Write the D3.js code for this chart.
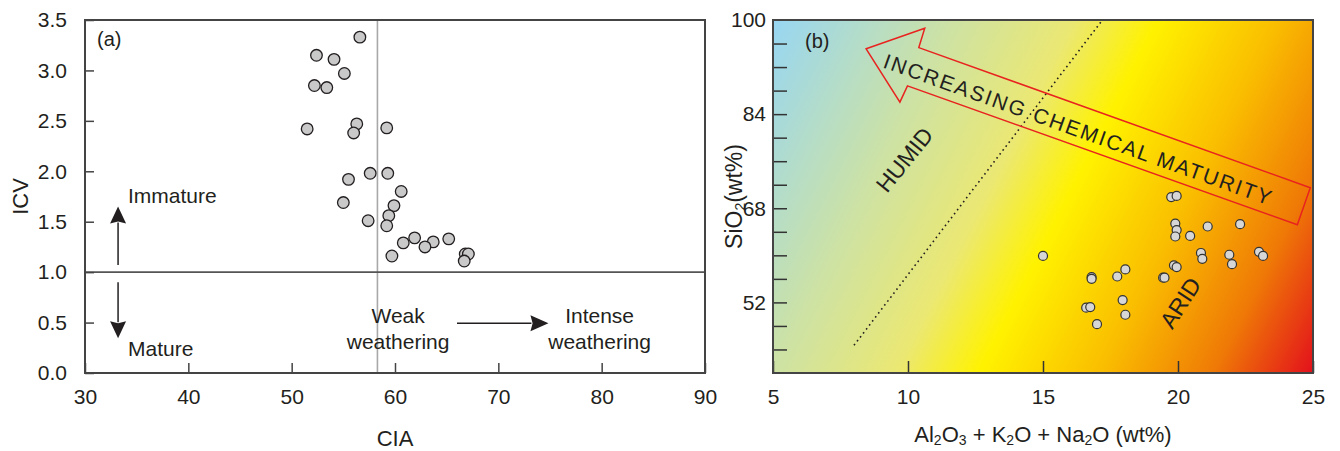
<!DOCTYPE html>
<html>
<head>
<meta charset="utf-8">
<script src="https://d3js.org/d3.v7.min.js"></script>
<style>
  body { margin: 0; background: #fff; }
  svg text { font-family: "Liberation Sans", Arial, sans-serif; fill: #231f20; }
</style>
</head>
<body>
<svg id="chart" width="1340" height="451"></svg>
<script>
// ---- panel (a): CIA vs ICV ----
var cia = [56.6, 52.4, 54.1, 55.1, 52.2, 53.4, 56.3, 51.5, 56.0, 59.2, 57.6, 59.3, 55.5, 60.6,
           55.0, 59.9, 59.4, 57.4, 59.2, 61.9, 60.8, 63.7, 62.9, 65.2, 59.7, 66.8, 67.1, 66.7];
var icv = [3.33, 3.15, 3.11, 2.97, 2.85, 2.83, 2.47, 2.42, 2.38, 2.43, 1.98, 1.98, 1.92, 1.80,
           1.69, 1.66, 1.56, 1.51, 1.46, 1.34, 1.29, 1.30, 1.25, 1.33, 1.16, 1.18, 1.18, 1.11];
var ciaTicks = [30, 40, 50, 60, 70, 80, 90];
var icvTicks = [0, 0.5, 1.0, 1.5, 2.0, 2.5, 3.0, 3.5];
var icvLimit = 1.0;
var ciaLimit = 58.3;

// ---- panel (b): Al2O3+K2O+Na2O vs SiO2 ----
var alkali = [15.0, 16.8, 16.8, 17.75, 18.05, 16.6, 16.75, 17.95, 18.05, 17.0, 19.75, 19.95, 19.9, 19.95,
              19.9, 20.45, 21.1, 22.3, 19.85, 19.95, 19.45, 19.5, 20.85, 20.9, 21.9, 22.0, 23.0, 23.15];
var silica = [59.9, 56.3, 56.0, 56.4, 57.6, 51.1, 51.2, 52.4, 49.9, 48.3, 69.9, 70.1, 65.4, 64.3,
              63.2, 63.3, 64.9, 65.3, 58.3, 58.0, 56.2, 56.2, 60.4, 59.4, 60.1, 58.5, 60.6, 59.9];
var alkaliTicks = [5, 10, 15, 20, 25];
var silicaLabels = [52, 68, 84, 100];
var silicaMinor = [44, 48, 52, 56, 60, 64, 68, 72, 76, 80, 84, 88, 92, 96];
var humidAridLine = [[8.0, 44.7], [17.2, 100]];
var maturityArrow = [[8.45, 95.1], [10.62, 98.6], [10.4, 95.3], [24.9, 71.5],
                     [24.42, 65.2], [9.98, 88.8], [9.7, 86.05]];

var svg = d3.select("#chart");
var font = 21;

// ================= panel (a) =================
var xa = d3.scaleLinear().domain([30, 90]).range([85, 705]);
var ya = d3.scaleLinear().domain([0, 3.5]).range([373, 20]);
var ga = svg.append("g");

ga.append("line").attr("x1", xa(ciaLimit)).attr("x2", xa(ciaLimit))
  .attr("y1", ya(3.5)).attr("y2", ya(0)).attr("stroke", "#a8a8a8").attr("stroke-width", 1.6);
ga.append("line").attr("x1", xa(30)).attr("x2", xa(90))
  .attr("y1", ya(icvLimit)).attr("y2", ya(icvLimit)).attr("stroke", "#555").attr("stroke-width", 1.6);

var axA = ga.append("g").attr("transform", "translate(0," + ya(0) + ")")
  .call(d3.axisBottom(xa).tickValues(ciaTicks).tickSize(-10).tickPadding(15).tickFormat(d3.format("d")));
var ayA = ga.append("g").attr("transform", "translate(" + xa(30) + ",0)")
  .call(d3.axisLeft(ya).tickValues(icvTicks).tickSize(-9).tickPadding(18).tickFormat(d3.format(".1f")));
[axA, ayA].forEach(function(ax){
  ax.select(".domain").remove();
  ax.selectAll("line").attr("stroke", "#444").attr("stroke-width", 1.5);
  ax.selectAll("text").style("font-size", font + "px").attr("fill", "#231f20");
});
axA.selectAll("text").attr("dy", "0.75em");

ga.append("rect").attr("x", xa(30)).attr("y", ya(3.5))
  .attr("width", xa(90) - xa(30)).attr("height", ya(0) - ya(3.5))
  .attr("fill", "none").attr("stroke", "#444").attr("stroke-width", 2);

ga.selectAll("circle.pa").data(d3.range(cia.length)).enter().append("circle")
  .attr("class", "pa")
  .attr("cx", function(i){ return xa(cia[i]); })
  .attr("cy", function(i){ return ya(icv[i]); })
  .attr("r", 5.8).attr("fill", "#c9c9c9").attr("stroke", "#231f20").attr("stroke-width", 1.3);

function arrow(g, x1, y1, x2, y2, len, half) {
  var dx = x2 - x1, dy = y2 - y1, L = Math.sqrt(dx * dx + dy * dy);
  var ux = dx / L, uy = dy / L;
  var bx = x2 - ux * len, by = y2 - uy * len;
  g.append("line").attr("x1", x1).attr("y1", y1).attr("x2", bx + ux).attr("y2", by + uy)
    .attr("stroke", "#231f20").attr("stroke-width", 1.5);
  g.append("path").attr("d", "M" + x2 + "," + y2 + "L" + (bx - uy * half) + "," + (by + ux * half) +
    "L" + (bx + ux * len * 0.12) + "," + (by + uy * len * 0.12) +
    "L" + (bx + uy * half) + "," + (by - ux * half) + "Z").attr("fill", "#231f20");
}
arrow(ga, xa(33.2), ya(1.07), xa(33.2), ya(1.65), 17, 8);
arrow(ga, xa(33.2), ya(0.9), xa(33.2), ya(0.345), 17, 8);
arrow(ga, xa(66.0), ya(0.493), xa(74.85), ya(0.493), 18, 8);

function label(g, x, y, txt, anchor, size) {
  return g.append("text").attr("x", x).attr("y", y).attr("text-anchor", anchor || "start")
    .style("font-size", (size || font) + "px").text(txt);
}
label(ga, 97, 46, "(a)", "start", 20);
label(ga, 128, 203, "Immature");
label(ga, 128, 356, "Mature");
label(ga, xa(60.3), 323, "Weak", "middle");
label(ga, xa(60.3), 349, "weathering", "middle");
label(ga, xa(79.8), 323, "Intense", "middle");
label(ga, xa(79.8), 349, "weathering", "middle");
label(ga, xa(60), 446, "CIA", "middle", 22);
ga.append("text").attr("transform", "translate(28," + ya(1.75) + ") rotate(-90)")
  .attr("text-anchor", "middle").style("font-size", "22px").text("ICV");

// ================= panel (b) =================
var xb = d3.scaleLinear().domain([5, 25]).range([773, 1313]);
var yb = d3.scaleLinear().domain([40, 100]).range([373, 20]);
var gb = svg.append("g");

var W = xb(25) - xb(5), H = yb(40) - yb(100);
var dir = [353, 179], dl = Math.sqrt(dir[0] * dir[0] + dir[1] * dir[1]);
var proj = (W * dir[0] + H * dir[1]) / dl;
var grad = svg.append("defs").append("linearGradient").attr("id", "climate")
  .attr("gradientUnits", "userSpaceOnUse")
  .attr("x1", xb(5)).attr("y1", yb(100))
  .attr("x2", xb(5) + dir[0] / dl * proj).attr("y2", yb(100) + dir[1] / dl * proj);
[[0, "#97d6f3"], [0.25, "#cde2a4"], [0.42, "#ebe873"], [0.535, "#fff200"],
 [0.7, "#fabf00"], [0.86, "#ef7a06"], [1, "#e3101c"]].forEach(function(s){
  grad.append("stop").attr("offset", s[0]).attr("stop-color", s[1]);
});
gb.append("rect").attr("x", xb(5)).attr("y", yb(100)).attr("width", W).attr("height", H)
  .attr("fill", "url(#climate)");

gb.append("line").attr("x1", xb(humidAridLine[0][0])).attr("y1", yb(humidAridLine[0][1]))
  .attr("x2", xb(humidAridLine[1][0])).attr("y2", yb(humidAridLine[1][1]))
  .attr("stroke", "#231f20").attr("stroke-width", 1.6).attr("stroke-dasharray", "1.6 3.4");

gb.append("path").attr("d", d3.line().x(function(d){ return xb(d[0]); }).y(function(d){ return yb(d[1]); })(maturityArrow) + "Z")
  .attr("fill", "none").attr("stroke", "#e8231f").attr("stroke-width", 1.5);

var ang = Math.atan2(yb(maturityArrow[3][1]) - yb(maturityArrow[2][1]), xb(maturityArrow[3][0]) - xb(maturityArrow[2][0])) * 180 / Math.PI;
gb.append("text").attr("transform", "translate(1077,131) rotate(" + ang + ")")
  .attr("text-anchor", "middle").attr("dominant-baseline", "middle")
  .attr("textLength", 410).attr("lengthAdjust", "spacing")
  .style("font-size", "21px").text("INCREASING CHEMICAL MATURITY");
gb.append("text").attr("transform", "translate(906,161) rotate(-51)")
  .attr("text-anchor", "middle").attr("dominant-baseline", "middle")
  .style("font-size", "23px").text("HUMID");
gb.append("text").attr("transform", "translate(1182,304) rotate(-57)")
  .attr("text-anchor", "middle").attr("dominant-baseline", "middle")
  .style("font-size", "23px").text("ARID");

gb.selectAll("circle.pb").data(d3.range(alkali.length)).enter().append("circle")
  .attr("class", "pb")
  .attr("cx", function(i){ return xb(alkali[i]); })
  .attr("cy", function(i){ return yb(silica[i]); })
  .attr("r", 4.5).attr("fill", "#d6d6d6").attr("stroke", "#333").attr("stroke-width", 1.2);

var axB = gb.append("g").attr("transform", "translate(0," + yb(40) + ")")
  .call(d3.axisBottom(xb).tickValues(alkaliTicks).tickSize(-12).tickPadding(15).tickFormat(d3.format("d")));
var ayBm = gb.append("g").attr("transform", "translate(" + xb(5) + ",0)")
  .call(d3.axisLeft(yb).tickValues(silicaMinor).tickSize(-14).tickFormat(""));
var ayB = gb.append("g").attr("transform", "translate(" + xb(5) + ",0)")
  .call(d3.axisLeft(yb).tickValues(silicaLabels).tickSize(0).tickPadding(7).tickFormat(d3.format("d")));
[axB, ayBm, ayB].forEach(function(ax){
  ax.select(".domain").remove();
  ax.selectAll("line").attr("stroke", "#333").attr("stroke-width", 1.5);
  ax.selectAll("text").style("font-size", font + "px").attr("fill", "#231f20");
});
axB.selectAll("text").attr("dy", "0.75em");

gb.append("rect").attr("x", xb(5)).attr("y", yb(100)).attr("width", W).attr("height", H)
  .attr("fill", "none").attr("stroke", "#444").attr("stroke-width", 2);

label(gb, 805, 48, "(b)", "start", 20);

var xt = gb.append("text").attr("x", xb(15)).attr("y", 442).attr("text-anchor", "middle")
  .style("font-size", "22px");
[["Al", 0], ["2", 1], ["O", 0], ["3", 1], [" + K", 0], ["2", 1], ["O + Na", 0], ["2", 1], ["O (wt%)", 0]]
  .forEach(function(p){
    xt.append("tspan").attr("baseline-shift", p[1] ? "-20%" : "0%")
      .style("font-size", p[1] ? "14px" : "22px").text(p[0]);
  });
var yt = gb.append("text").attr("transform", "translate(742," + yb(70) + ") rotate(-90)")
  .attr("text-anchor", "middle").style("font-size", "23px");
[["SiO", 0], ["2", 1], ["(wt%)", 0]].forEach(function(p){
  yt.append("tspan").attr("baseline-shift", p[1] ? "-20%" : "0%")
    .style("font-size", p[1] ? "14px" : "23px").text(p[0]);
});
</script>
</body>
</html>
